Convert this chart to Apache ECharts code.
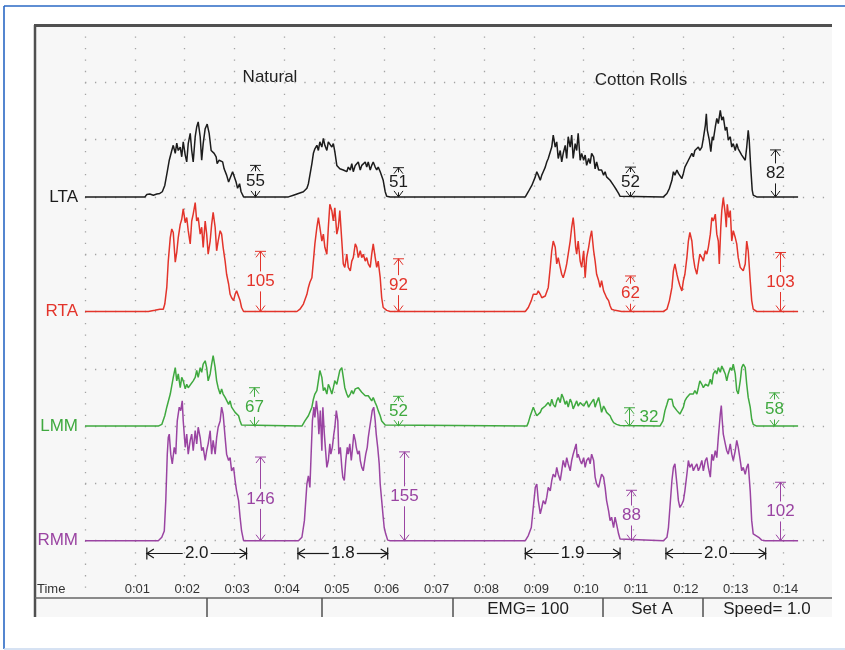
<!DOCTYPE html>
<html>
<head>
<meta charset="utf-8">
<script src="https://cdn.jsdelivr.net/npm/echarts/dist/echarts.min.js"></script>
<style>
  html, body { margin: 0; padding: 0; background: #ffffff; }
  #chart { width: 845px; height: 650px; }
</style>
</head>
<body>
<div id="chart"></div>
<script>
// ---- Channels -------------------------------------------------------------
const channelNames  = ['LTA', 'RTA', 'LMM', 'RMM'];
const channelBases  = [700, 500, 300, 100];           // zero line of each channel on the shared µV scale
const channelColors = ['#1c1c1c', '#e3342b', '#3fa93f', '#9a44a2'];

// Time axis tick labels (seconds 1..14)
const timeLabels = ['0:01', '0:02', '0:03', '0:04', '0:05', '0:06', '0:07',
                    '0:08', '0:09', '0:10', '0:11', '0:12', '0:13', '0:14'];

// ---- EMG envelopes: [time s, amplitude µV] --------------------------------
const ltaTrace = [
  [0,0],
  [1.20,0],[1.24,4],[1.30,5],[1.37,3],[1.44,5],[1.50,6],[1.55,9],[1.60,20],[1.65,44],[1.69,64],[1.74,81],[1.77,90],[1.81,76],[1.84,94],[1.87,81],[1.91,87],[1.94,70],[1.97,96],[2.01,73],[2.04,61],[2.07,93],[2.11,111],[2.14,81],[2.17,61],[2.21,105],[2.24,122],[2.27,131],[2.31,105],[2.34,64],[2.37,93],[2.41,119],[2.45,127],[2.49,111],[2.53,81],[2.56,84],[2.59,76],[2.63,70],[2.65,58],[2.69,64],[2.72,67],[2.76,61],[2.79,49],[2.84,38],[2.88,26],[2.92,29],[2.96,44],[3.00,47],[3.03,26],[3.06,15],[3.10,23],[3.13,9],[3.18,0],
  [4.08,0],[4.18,3],[4.28,6],[4.38,9],[4.45,15],[4.48,23],[4.51,38],[4.55,58],[4.58,76],[4.61,84],[4.65,90],[4.68,81],[4.71,96],[4.75,87],[4.78,102],[4.81,90],[4.85,81],[4.88,96],[4.91,99],[4.95,87],[4.98,93],[5.01,79],[5.05,55],[5.08,52],[5.11,49],[5.15,52],[5.18,47],[5.21,49],[5.25,44],[5.28,52],[5.32,47],[5.35,58],[5.38,44],[5.42,55],[5.45,52],[5.48,61],[5.52,47],[5.55,55],[5.58,58],[5.62,61],[5.65,52],[5.68,61],[5.72,47],[5.75,55],[5.78,61],[5.82,52],[5.85,47],[5.88,52],[5.92,44],[5.95,47],[5.98,29],[6.02,9],[6.05,1],[6.12,0],
  [8.83,0],[8.89,9],[8.96,20],[9.03,35],[9.06,44],[9.09,38],[9.13,29],[9.16,38],[9.19,44],[9.23,52],[9.26,61],[9.29,67],[9.33,64],[9.36,87],[9.39,108],[9.43,87],[9.46,96],[9.49,67],[9.53,81],[9.56,61],[9.59,76],[9.63,90],[9.66,67],[9.69,105],[9.73,87],[9.76,108],[9.79,67],[9.83,93],[9.86,81],[9.89,111],[9.93,64],[9.96,76],[10.00,64],[10.03,73],[10.06,55],[10.10,67],[10.13,58],[10.16,76],[10.20,70],[10.23,49],[10.26,61],[10.30,47],[10.33,44],[10.36,47],[10.40,38],[10.43,44],[10.46,35],[10.50,38],[10.53,29],[10.56,32],[10.60,20],[10.63,20],[10.66,12],[10.70,6],[10.73,1],[10.76,0],
  [11.60,0],[11.67,6],[11.72,15],[11.77,29],[11.80,44],[11.83,38],[11.87,47],[11.90,41],[11.93,38],[11.97,32],[12.00,41],[12.03,52],[12.07,55],[12.10,64],[12.13,67],[12.17,76],[12.20,70],[12.23,81],[12.27,79],[12.30,87],[12.33,81],[12.37,87],[12.40,102],[12.44,125],[12.46,145],[12.48,116],[12.52,99],[12.55,79],[12.58,105],[12.60,99],[12.64,122],[12.67,137],[12.70,128],[12.74,151],[12.77,134],[12.80,140],[12.84,116],[12.87,122],[12.90,99],[12.94,105],[12.97,87],[13.00,93],[13.04,81],[13.07,93],[13.10,84],[13.14,81],[13.17,73],[13.20,76],[13.24,64],[13.27,87],[13.30,116],[13.32,99],[13.35,52],[13.38,12],[13.40,3],[13.47,0],
  [14.30,0]
];

const rtaTrace = [
  [0,0],[1.27,0],[1.30,3],[1.40,2],[1.50,4],
  [1.57,4],[1.60,13],[1.64,42],[1.67,88],[1.71,129],[1.74,144],[1.77,138],[1.81,86],[1.84,103],[1.87,129],[1.91,152],[1.94,161],[1.97,179],[2.01,155],[2.04,164],[2.07,141],[2.11,118],[2.14,158],[2.17,170],[2.21,190],[2.24,158],[2.27,164],[2.31,135],[2.34,147],[2.37,112],[2.41,158],[2.44,135],[2.47,100],[2.51,123],[2.54,152],[2.57,173],[2.61,147],[2.64,106],[2.67,123],[2.71,141],[2.74,135],[2.77,112],[2.81,88],[2.84,65],[2.88,48],[2.91,30],[2.94,24],[2.98,19],[3.01,30],[3.04,36],[3.08,33],[3.11,19],[3.14,7],[3.18,0],
  [4.25,0],[4.31,4],[4.38,13],[4.45,30],[4.48,42],[4.51,51],[4.55,59],[4.58,88],[4.61,118],[4.65,147],[4.68,164],[4.71,147],[4.75,123],[4.78,135],[4.81,112],[4.85,100],[4.88,147],[4.91,187],[4.95,176],[4.98,158],[5.01,181],[5.05,135],[5.08,147],[5.11,176],[5.15,123],[5.18,83],[5.21,77],[5.25,100],[5.28,77],[5.32,71],[5.35,88],[5.38,94],[5.42,118],[5.45,112],[5.48,94],[5.52,106],[5.55,94],[5.58,100],[5.62,88],[5.65,94],[5.68,83],[5.72,77],[5.75,100],[5.78,118],[5.82,94],[5.85,77],[5.88,88],[5.92,59],[5.95,24],[5.98,7],[6.05,2],[6.12,0],[6.49,0],[6.52,3],[6.57,0],
  [8.83,0],[8.89,7],[8.95,19],[8.99,30],[9.03,33],[9.06,30],[9.09,36],[9.13,30],[9.16,24],[9.19,22],[9.23,27],[9.26,30],[9.29,42],[9.33,77],[9.36,106],[9.39,123],[9.43,112],[9.46,83],[9.49,94],[9.53,77],[9.56,65],[9.59,59],[9.63,71],[9.66,83],[9.69,100],[9.73,123],[9.76,147],[9.79,164],[9.81,147],[9.84,112],[9.86,100],[9.89,123],[9.93,88],[9.96,77],[10.00,106],[10.03,59],[10.06,94],[10.10,112],[10.13,129],[10.16,141],[10.20,106],[10.23,88],[10.26,65],[10.30,54],[10.33,42],[10.36,54],[10.40,36],[10.43,30],[10.46,24],[10.50,19],[10.53,10],[10.56,4],[10.63,2],[10.76,0],
  [11.60,0],[11.67,4],[11.72,19],[11.77,42],[11.80,71],[11.83,83],[11.87,65],[11.90,54],[11.93,45],[11.97,36],[12.00,54],[12.03,65],[12.07,94],[12.10,123],[12.13,138],[12.17,123],[12.20,94],[12.23,77],[12.27,65],[12.30,83],[12.33,100],[12.37,94],[12.40,88],[12.44,106],[12.47,100],[12.50,112],[12.54,135],[12.57,164],[12.60,158],[12.64,170],[12.67,135],[12.70,123],[12.72,83],[12.75,147],[12.77,176],[12.80,199],[12.84,170],[12.86,147],[12.88,187],[12.91,164],[12.94,176],[12.97,123],[13.00,141],[13.04,129],[13.07,118],[13.10,94],[13.14,77],[13.17,77],[13.20,71],[13.24,83],[13.27,123],[13.30,106],[13.34,54],[13.37,19],[13.40,4],[13.44,1],[13.47,0],
  [14.30,0]
];

const lmmTrace = [
  [0,0],
  [1.47,0],[1.54,3],[1.60,18],[1.64,33],[1.71,56],[1.77,85],[1.81,102],[1.84,79],[1.87,91],[1.91,67],[1.94,85],[1.97,79],[2.01,65],[2.04,73],[2.07,67],[2.11,70],[2.17,79],[2.21,85],[2.24,97],[2.27,85],[2.31,102],[2.34,94],[2.37,108],[2.41,114],[2.44,102],[2.47,79],[2.51,91],[2.54,108],[2.57,123],[2.61,102],[2.64,79],[2.67,67],[2.71,56],[2.74,65],[2.77,56],[2.81,50],[2.84,53],[2.88,38],[2.91,44],[2.94,33],[2.98,35],[3.01,24],[3.04,27],[3.08,18],[3.11,9],[3.14,2],[3.18,0],
  [4.35,0],[4.41,9],[4.48,18],[4.55,33],[4.58,47],[4.61,56],[4.65,62],[4.68,79],[4.71,97],[4.75,85],[4.78,62],[4.81,67],[4.85,56],[4.88,73],[4.91,67],[4.95,56],[4.98,67],[5.01,79],[5.05,73],[5.08,85],[5.11,97],[5.15,102],[5.18,85],[5.21,67],[5.25,56],[5.28,50],[5.32,56],[5.35,62],[5.38,56],[5.42,65],[5.45,62],[5.48,67],[5.52,65],[5.55,59],[5.58,62],[5.62,53],[5.65,56],[5.68,53],[5.72,50],[5.75,44],[5.78,50],[5.82,41],[5.85,35],[5.88,27],[5.92,18],[5.95,9],[5.98,6],[6.02,2],[6.05,0],
  [8.86,0],[8.89,6],[8.93,18],[8.96,21],[8.99,33],[9.03,24],[9.06,18],[9.09,21],[9.13,24],[9.16,30],[9.19,27],[9.23,35],[9.26,33],[9.29,41],[9.33,35],[9.36,47],[9.39,38],[9.43,33],[9.46,44],[9.49,50],[9.53,41],[9.56,56],[9.59,50],[9.63,38],[9.66,44],[9.69,33],[9.73,47],[9.76,41],[9.79,30],[9.83,38],[9.86,44],[9.89,35],[9.93,41],[9.96,44],[10.00,35],[10.03,38],[10.06,44],[10.10,33],[10.13,38],[10.16,41],[10.20,47],[10.23,33],[10.26,41],[10.30,50],[10.33,38],[10.36,24],[10.40,35],[10.43,30],[10.46,24],[10.50,21],[10.53,18],[10.56,12],[10.60,6],[10.63,9],[10.66,3],[10.70,6],[10.73,1],[10.76,0],
  [11.53,0],[11.59,9],[11.63,27],[11.67,38],[11.70,47],[11.73,50],[11.77,47],[11.80,35],[11.83,33],[11.87,27],[11.90,24],[11.93,21],[11.97,24],[12.00,33],[12.03,44],[12.07,50],[12.10,47],[12.13,56],[12.17,59],[12.20,56],[12.23,62],[12.27,56],[12.30,67],[12.33,79],[12.37,73],[12.40,67],[12.44,73],[12.47,76],[12.50,70],[12.54,82],[12.57,73],[12.60,91],[12.64,97],[12.67,91],[12.70,102],[12.74,94],[12.77,105],[12.80,99],[12.84,91],[12.87,79],[12.90,91],[12.94,102],[12.97,97],[13.00,108],[13.04,91],[13.07,62],[13.10,56],[13.14,79],[13.17,102],[13.20,108],[13.24,102],[13.27,73],[13.30,50],[13.34,33],[13.37,12],[13.40,3],[13.47,0],
  [14.30,0]
];

const rmmTrace = [
  [0,0],
  [1.47,0],[1.54,6],[1.59,17],[1.62,70],[1.65,151],[1.67,180],[1.69,186],[1.72,151],[1.75,134],[1.79,163],[1.82,151],[1.85,209],[1.89,233],[1.92,227],[1.95,244],[1.97,209],[2.01,163],[2.04,186],[2.07,151],[2.11,175],[2.14,186],[2.17,157],[2.21,192],[2.24,169],[2.27,198],[2.31,180],[2.34,157],[2.37,163],[2.41,140],[2.44,157],[2.47,169],[2.51,192],[2.54,151],[2.57,175],[2.61,151],[2.64,180],[2.67,198],[2.71,209],[2.74,233],[2.77,221],[2.81,180],[2.84,151],[2.88,140],[2.91,145],[2.94,122],[2.98,128],[3.01,105],[3.04,87],[3.08,70],[3.11,41],[3.14,17],[3.18,0],
  [4.28,0],[4.35,6],[4.40,35],[4.45,99],[4.48,113],[4.51,93],[4.53,140],[4.56,209],[4.59,233],[4.61,215],[4.64,244],[4.67,221],[4.69,186],[4.72,227],[4.75,157],[4.77,233],[4.80,186],[4.83,151],[4.85,128],[4.88,140],[4.91,169],[4.93,151],[4.96,163],[4.99,186],[5.01,198],[5.04,227],[5.07,209],[5.09,151],[5.12,163],[5.15,128],[5.17,111],[5.20,105],[5.23,140],[5.26,163],[5.28,151],[5.31,169],[5.34,140],[5.36,157],[5.39,186],[5.42,175],[5.44,163],[5.47,151],[5.50,157],[5.52,140],[5.55,128],[5.58,122],[5.60,134],[5.63,151],[5.66,163],[5.68,180],[5.71,198],[5.74,215],[5.76,227],[5.79,233],[5.82,209],[5.84,186],[5.87,163],[5.90,134],[5.92,99],[5.95,70],[5.98,41],[6.00,23],[6.03,12],[6.07,1],[6.12,0],
  [8.83,0],[8.89,9],[8.95,23],[8.99,58],[9.03,93],[9.06,99],[9.09,70],[9.13,47],[9.16,58],[9.19,70],[9.23,64],[9.26,76],[9.29,93],[9.33,87],[9.36,105],[9.39,116],[9.43,111],[9.46,128],[9.49,116],[9.53,105],[9.56,122],[9.59,140],[9.63,128],[9.66,145],[9.69,134],[9.73,122],[9.76,140],[9.79,151],[9.83,163],[9.85,169],[9.87,145],[9.89,151],[9.93,140],[9.96,134],[10.00,145],[10.03,128],[10.06,140],[10.10,145],[10.13,134],[10.16,151],[10.20,140],[10.23,111],[10.26,99],[10.30,93],[10.33,105],[10.36,116],[10.40,111],[10.43,93],[10.46,70],[10.50,52],[10.53,35],[10.56,41],[10.60,23],[10.63,41],[10.66,29],[10.70,12],[10.73,3],[10.76,0],
  [11.60,0],[11.67,6],[11.70,23],[11.73,58],[11.77,105],[11.80,128],[11.83,134],[11.87,99],[11.90,70],[11.93,58],[11.97,64],[12.00,70],[12.03,87],[12.07,116],[12.10,140],[12.13,128],[12.17,134],[12.20,122],[12.23,128],[12.27,134],[12.30,122],[12.33,128],[12.37,140],[12.40,122],[12.44,140],[12.47,145],[12.50,128],[12.54,111],[12.57,151],[12.60,140],[12.64,157],[12.67,145],[12.70,180],[12.74,221],[12.76,236],[12.78,209],[12.80,186],[12.84,169],[12.87,157],[12.90,151],[12.94,169],[12.97,151],[13.00,140],[13.04,157],[13.07,175],[13.10,163],[13.14,140],[13.17,122],[13.20,128],[13.24,116],[13.27,128],[13.30,134],[13.34,87],[13.37,35],[13.40,12],[13.44,9],[13.51,6],[13.57,1],[13.64,0],
  [14.30,0]
];

// ---- Measured amplitudes (µV) after each clench --------------------------
const ltaMarkTimes  = [3.41, 6.28, 10.93, 13.84];
const ltaMarkValues = [55, 51, 52, 82];
const rtaMarkTimes  = [3.51, 6.27, 10.93, 13.94];
const rtaMarkValues = [105, 92, 62, 103];
const lmmMarkTimes  = [3.38, 6.28, 10.91, 13.82];
const lmmMarkValues = [67, 52, 32, 58];
const rmmMarkTimes  = [3.51, 6.40, 10.95, 13.94];
const rmmMarkValues = [146, 155, 88, 102];

// ---- Clench durations (s) -------------------------------------------------
const durationStarts = [1.24, 4.27, 8.83, 11.65];
const durationValues = [2.0, 1.8, 1.9, 2.0];

// ---- Texts ----------------------------------------------------------------
const sectionTitles = ['Natural', 'Cotton Rolls'];
const footerTexts   = ['EMG= 100', 'Set A', 'Speed= 1.0'];

// ===========================================================================
const FONT = '"Liberation Sans", Arial, Helvetica, sans-serif';
const DURATION_LEVEL = 78;   // height of the duration brackets on the µV scale

const traces = [ltaTrace, rtaTrace, lmmTrace, rmmTrace];
const markTimes  = [ltaMarkTimes, rtaMarkTimes, lmmMarkTimes, rmmMarkTimes];
const markValues = [ltaMarkValues, rtaMarkValues, lmmMarkValues, rmmMarkValues];

const lineSeries = traces.map((tr, i) => ({
  type: 'line',
  name: channelNames[i],
  data: tr.map(p => [p[0], channelBases[i] + p[1]]),
  showSymbol: false,
  symbol: 'none',
  lineStyle: { color: channelColors[i], width: 1.5 },
  z: 3 + i,
  silent: true,
  animation: false
}));

const ampData = [];
markTimes.forEach((times, i) => {
  times.forEach((t, j) => ampData.push([t, channelBases[i], markValues[i][j], i]));
});

function renderAmp(params, api) {
  const t = api.value(0), base = api.value(1), amp = api.value(2), ch = api.value(3);
  const col = channelColors[ch];
  const pb = api.coord([t, base]);
  const pt = api.coord([t, base + amp]);
  const x = Math.round(pb[0]) + 0.5, yb = pb[1], yt = pt[1];
  const ym = (yb + yt) / 2;
  const ls = { stroke: col, lineWidth: 1, fill: null };
  const kids = [
    { type: 'line', shape: { x1: x - 5.5, y1: yt, x2: x + 5.5, y2: yt }, style: ls },
    { type: 'polyline', shape: { points: [[x - 4.5, yt + 6], [x, yt], [x + 4.5, yt + 6]] }, style: ls },
    { type: 'polyline', shape: { points: [[x - 4.5, yb - 6], [x, yb], [x + 4.5, yb - 6]] }, style: ls }
  ];
  const font = '17px ' + FONT;
  if (yb - yt > 24) {
    kids.push({ type: 'line', shape: { x1: x, y1: yt, x2: x, y2: Math.max(yt, ym - 10) }, style: ls });
    kids.push({ type: 'line', shape: { x1: x, y1: Math.min(yb, ym + 10), x2: x, y2: yb }, style: ls });
    kids.push({ type: 'text', style: { text: String(amp), x: x, y: ym, align: 'center', verticalAlign: 'middle', font: font, fill: col } });
  } else {
    kids.push({ type: 'line', shape: { x1: x, y1: yt, x2: x, y2: yb }, style: ls });
    kids.push({ type: 'text', style: { text: String(amp), x: x + 10, y: ym, align: 'left', verticalAlign: 'middle', font: font, fill: col } });
  }
  return { type: 'group', children: kids };
}

const durData = durationStarts.map((s, i) => [s, DURATION_LEVEL, durationValues[i]]);

function renderDur(params, api) {
  const t0 = api.value(0), lvl = api.value(1), d = api.value(2);
  const p0 = api.coord([t0, lvl]);
  const p1 = api.coord([t0 + d, lvl]);
  const x0 = p0[0], x1 = p1[0], y = Math.round(p0[1]) + 0.5, xm = (x0 + x1) / 2;
  const ls = { stroke: '#1a1a1a', lineWidth: 1.2, fill: null };
  return {
    type: 'group',
    children: [
      { type: 'line', shape: { x1: x0, y1: y - 6, x2: x0, y2: y + 6 }, style: ls },
      { type: 'polyline', shape: { points: [[x0 + 7, y - 4.5], [x0, y], [x0 + 7, y + 4.5]] }, style: ls },
      { type: 'line', shape: { x1: x0, y1: y, x2: xm - 14, y2: y }, style: ls },
      { type: 'text', style: { text: d.toFixed(1), x: xm, y: y, align: 'center', verticalAlign: 'middle', font: '17px ' + FONT, fill: '#1a1a1a' } },
      { type: 'line', shape: { x1: xm + 14, y1: y, x2: x1, y2: y }, style: ls },
      { type: 'polyline', shape: { points: [[x1 - 7, y - 4.5], [x1, y], [x1 - 7, y + 4.5]] }, style: ls },
      { type: 'line', shape: { x1: x1, y1: y - 6, x2: x1, y2: y + 6 }, style: ls }
    ]
  };
}

const labelRich = {};
channelNames.forEach((n, i) => {
  labelRich['c' + i] = { color: channelColors[i], fontSize: 17, fontFamily: FONT };
});

// Chart chrome: panel, frame, footer bar
const frameColor = '#505050';
const graphics = [
  { type: 'rect', shape: { x: 35, y: 25, width: 797, height: 592 }, style: { fill: '#f7f7f7' }, z: -100, silent: true },
  { type: 'line', shape: { x1: 4, y1: 6, x2: 845, y2: 6 }, style: { stroke: '#2a68c4', lineWidth: 1.6 }, silent: true },
  { type: 'line', shape: { x1: 4, y1: 6, x2: 4, y2: 649 }, style: { stroke: '#2a68c4', lineWidth: 1.6 }, silent: true },
  { type: 'line', shape: { x1: 4, y1: 649, x2: 845, y2: 649 }, style: { stroke: '#c9d9ef', lineWidth: 1.6 }, silent: true },
  { type: 'line', shape: { x1: 34, y1: 25.5, x2: 832, y2: 25.5 }, style: { stroke: frameColor, lineWidth: 3 }, z: 50, silent: true },
  { type: 'line', shape: { x1: 35, y1: 25, x2: 35, y2: 617 }, style: { stroke: frameColor, lineWidth: 2.5 }, z: 50, silent: true },
  { type: 'line', shape: { x1: 35, y1: 598, x2: 832, y2: 598 }, style: { stroke: '#666666', lineWidth: 1.5 }, z: 50, silent: true }
];
[207, 322, 453, 603, 703].forEach(x => {
  graphics.push({ type: 'line', shape: { x1: x, y1: 598, x2: x, y2: 617 }, style: { stroke: frameColor, lineWidth: 1.5 }, z: 50, silent: true });
});
[528, 652, 767].forEach((x, i) => {
  graphics.push({ type: 'text', style: { text: footerTexts[i], x: x, y: 609, align: 'center', verticalAlign: 'middle', font: '17px ' + FONT, fill: '#1e1e1e' }, silent: true });
});
graphics.push({ type: 'text', style: { text: 'Time', x: 37, y: 589, align: 'left', verticalAlign: 'middle', font: '13px ' + FONT, fill: '#333333' }, silent: true });
graphics.push({ type: 'text', style: { text: sectionTitles[0], x: 270, y: 77, align: 'center', verticalAlign: 'middle', font: '17px ' + FONT, fill: '#222222' }, silent: true });
graphics.push({ type: 'text', style: { text: sectionTitles[1], x: 641, y: 80, align: 'center', verticalAlign: 'middle', font: '17px ' + FONT, fill: '#222222' }, silent: true });

const chart = echarts.init(document.getElementById('chart'), null, { renderer: 'canvas', width: 845, height: 650 });

chart.setOption({
  backgroundColor: '#ffffff',
  animation: false,
  grid: { left: 85, top: 25, width: 745, height: 573, containLabel: false },
  xAxis: {
    type: 'value',
    min: 0,
    max: 14.94,
    interval: 1,
    axisLine: { show: false },
    axisTick: { show: false },
    axisLabel: {
      inside: true,
      margin: 2,
      fontSize: 13,
      fontFamily: FONT,
      color: '#333333',
      padding: [0, 0, 0, 5],
      showMaxLabel: false,
      formatter: v => {
        const k = Math.round(v);
        return (Math.abs(v - k) < 1e-6 && k >= 1 && k <= timeLabels.length) ? timeLabels[k - 1] : '';
      }
    },
    splitLine: {
      show: true,
      showMinLine: true,
      showMaxLine: false,
      lineStyle: { color: '#a4a4a4', width: 1.3, type: [1.3, 10.16] }
    }
  },
  yAxis: {
    type: 'value',
    min: 0,
    max: 1000,
    interval: 100,
    axisLine: { show: false },
    axisTick: { show: false },
    axisLabel: {
      margin: 7,
      rich: labelRich,
      formatter: v => {
        const i = channelBases.indexOf(Math.round(v));
        return i >= 0 ? '{c' + i + '|' + channelNames[i] + '}' : '';
      }
    },
    splitLine: {
      show: true,
      showMinLine: false,
      showMaxLine: false,
      lineStyle: { color: '#a4a4a4', width: 1.3, type: [1.3, 8.67] }
    }
  },
  graphic: graphics,
  series: lineSeries.concat([
    {
      type: 'custom',
      name: 'amplitude',
      renderItem: renderAmp,
      data: ampData,
      encode: { x: 0, y: 1 },
      z: 10,
      silent: true,
      animation: false
    },
    {
      type: 'custom',
      name: 'duration',
      renderItem: renderDur,
      data: durData,
      encode: { x: 0, y: 1 },
      z: 10,
      silent: true,
      animation: false
    }
  ])
});
</script>
</body>
</html>
